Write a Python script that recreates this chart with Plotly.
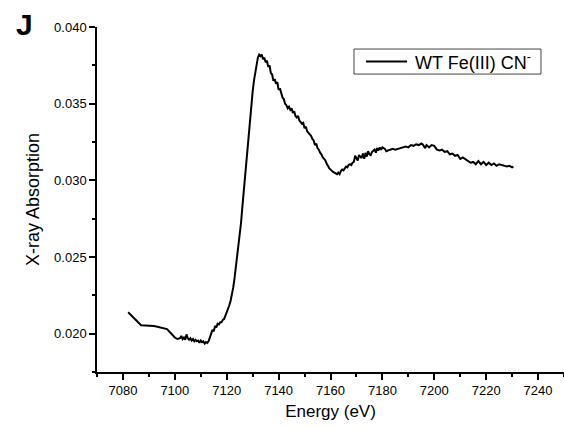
import plotly.graph_objects as go

# XANES spectrum, WT Fe(III) CN-
energy = [
    7082.0, 7087.0, 7092.0, 7097.0, 7100.0, 7101.0, 7102.0, 7102.5, 7103.0, 7103.5,
    7104.0, 7104.5, 7105.0, 7105.5, 7106.0, 7106.5, 7107.0, 7107.5, 7108.0, 7108.5,
    7109.0, 7109.5, 7110.0, 7110.5, 7111.0, 7111.5, 7112.0, 7112.5, 7113.0, 7113.5,
    7114.0, 7114.5, 7115.0, 7115.5, 7116.0, 7116.5, 7117.0, 7117.5, 7118.0, 7118.5,
    7119.0, 7119.5, 7120.0, 7120.5, 7121.0, 7121.5, 7122.0, 7122.5, 7123.0, 7123.5,
    7124.0, 7124.5, 7125.0, 7125.5, 7126.0, 7126.5, 7127.0, 7127.5, 7128.0, 7128.5,
    7129.0, 7129.5, 7130.0, 7130.5, 7131.0, 7131.5, 7132.0, 7132.5, 7133.0, 7133.5,
    7134.0, 7134.5, 7135.0, 7135.5, 7136.0, 7136.5, 7137.0, 7137.5, 7138.0, 7138.5,
    7139.0, 7139.5, 7140.0, 7140.5, 7141.0, 7141.5, 7142.0, 7142.5, 7143.0, 7143.5,
    7144.0, 7144.5, 7145.0, 7145.5, 7146.0, 7146.5, 7147.0, 7147.5, 7148.0, 7149.0,
    7149.5, 7150.0, 7150.5, 7151.0, 7152.0, 7152.5, 7153.0, 7153.5, 7154.0, 7154.5,
    7155.0, 7155.5, 7156.0, 7156.5, 7157.0, 7157.5, 7158.0, 7158.5, 7159.0, 7159.5,
    7160.0, 7160.5, 7161.0, 7161.5, 7162.0, 7162.5, 7163.0, 7163.5, 7164.0, 7164.5,
    7165.0, 7165.5, 7166.0, 7166.5, 7167.0, 7167.5, 7168.0, 7168.5, 7169.0, 7169.5,
    7170.0, 7170.5, 7171.0, 7171.5, 7172.0, 7172.5, 7173.0, 7173.5, 7174.0, 7174.5,
    7175.0, 7175.5, 7176.0, 7177.0, 7177.5, 7178.0, 7178.5, 7179.0, 7179.5, 7180.0,
    7181.0, 7181.5, 7182.0, 7183.0, 7184.0, 7185.0, 7186.0, 7187.0, 7188.0, 7189.0,
    7190.0, 7191.0, 7192.0, 7193.0, 7194.0, 7195.0, 7195.5, 7196.0, 7196.5, 7197.0,
    7198.0, 7199.0, 7200.0, 7201.0, 7202.0, 7203.0, 7204.0, 7205.0, 7206.0, 7207.0,
    7208.0, 7209.0, 7210.0, 7211.0, 7212.0, 7213.0, 7214.0, 7215.0, 7216.0, 7217.0,
    7218.0, 7219.0, 7220.0, 7221.0, 7222.0, 7223.0, 7224.0, 7225.0, 7226.0, 7227.0,
    7228.0, 7229.0, 7230.0, 7230.5,
]

absorption = [
    0.02140, 0.02055, 0.02050, 0.02030, 0.01975, 0.01965, 0.01970, 0.01985, 0.01965, 0.01975,
    0.01960, 0.01995, 0.01970, 0.01960, 0.01970, 0.01955, 0.01965, 0.01950, 0.01960, 0.01950,
    0.01955, 0.01940, 0.01955, 0.01945, 0.01950, 0.01935, 0.01945, 0.01940, 0.01950, 0.01980,
    0.01995, 0.02025, 0.02015, 0.02050, 0.02040, 0.02065, 0.02060, 0.02075, 0.02075, 0.02090,
    0.02095, 0.02115, 0.02135, 0.02160, 0.02185, 0.02215, 0.02250, 0.02300, 0.02360, 0.02425,
    0.02490, 0.02560, 0.02630, 0.02720, 0.02820, 0.02920, 0.03020, 0.03120, 0.03220, 0.03320,
    0.03410, 0.03500, 0.03580, 0.03650, 0.03710, 0.03760, 0.03800, 0.03820, 0.03810, 0.03820,
    0.03790, 0.03800, 0.03770, 0.03780, 0.03740, 0.03750, 0.03700, 0.03690, 0.03650, 0.03660,
    0.03630, 0.03640, 0.03590, 0.03600, 0.03560, 0.03540, 0.03530, 0.03500, 0.03490, 0.03470,
    0.03480, 0.03460, 0.03470, 0.03440, 0.03450, 0.03420, 0.03410, 0.03420, 0.03390, 0.03370,
    0.03375, 0.03340, 0.03350, 0.03320, 0.03300, 0.03290, 0.03270, 0.03260, 0.03230, 0.03240,
    0.03210, 0.03200, 0.03180, 0.03170, 0.03150, 0.03140, 0.03130, 0.03110, 0.03090, 0.03080,
    0.03070, 0.03060, 0.03055, 0.03050, 0.03045, 0.03040, 0.03050, 0.03040, 0.03060, 0.03070,
    0.03065, 0.03080, 0.03090, 0.03085, 0.03100, 0.03105, 0.03100, 0.03115, 0.03120, 0.03160,
    0.03140, 0.03130, 0.03165, 0.03150, 0.03145, 0.03175, 0.03140, 0.03180, 0.03155, 0.03190,
    0.03170, 0.03165, 0.03185, 0.03200, 0.03180, 0.03210, 0.03195, 0.03215, 0.03200, 0.03215,
    0.03205, 0.03190, 0.03195, 0.03200, 0.03205, 0.03200, 0.03205, 0.03210, 0.03215, 0.03220,
    0.03215, 0.03230, 0.03225, 0.03235, 0.03230, 0.03240, 0.03235, 0.03225, 0.03210, 0.03230,
    0.03215, 0.03230, 0.03225, 0.03200, 0.03195, 0.03200, 0.03185, 0.03190, 0.03170, 0.03175,
    0.03160, 0.03165, 0.03140, 0.03150, 0.03140, 0.03130, 0.03115, 0.03120, 0.03105, 0.03125,
    0.03105, 0.03120, 0.03100, 0.03115, 0.03100, 0.03110, 0.03095, 0.03105, 0.03100, 0.03100,
    0.03090, 0.03095, 0.03085, 0.03090,
]

series_name = "WT Fe(III) CN<sup>-</sup>"
panel_label = "J"

FONT = "Liberation Sans, Arial, sans-serif"

fig = go.Figure()
fig.add_trace(go.Scatter(
    x=energy, y=absorption, mode="lines", name=series_name,
    line=dict(color="black", width=2), showlegend=False,
))

# Boxed legend drawn in paper coordinates (compact, Origin-style)
legend_box = dict(x0=0.5503, x1=0.9507, y0=0.8636, y1=0.9361)
legend_line = dict(x0=0.576, x1=0.6638, y=0.8999)

shapes = [
    dict(type="rect", xref="paper", yref="paper",
         x0=legend_box["x0"], x1=legend_box["x1"],
         y0=legend_box["y0"], y1=legend_box["y1"],
         line=dict(color="#444444", width=1), fillcolor="white", layer="above"),
    dict(type="line", xref="paper", yref="paper",
         x0=legend_line["x0"], x1=legend_line["x1"],
         y0=legend_line["y"], y1=legend_line["y"],
         line=dict(color="black", width=2), layer="above"),
]

fig.update_layout(
    width=564, height=429,
    margin=dict(l=97, r=0, t=27, b=57),
    paper_bgcolor="white", plot_bgcolor="white",
    font=dict(family=FONT, color="black", size=13),
    showlegend=False,
    shapes=shapes,
    xaxis=dict(
        range=[7070, 7250], dtick=20, tick0=7080,
        showgrid=False, zeroline=False,
        showline=True, linecolor="black", linewidth=1.5,
        ticks="outside", ticklen=6, tickwidth=1.5, tickcolor="black",
        minor=dict(dtick=10, tick0=7070, ticks="outside", ticklen=3, tickwidth=1.5, tickcolor="black"),
        title=dict(text="Energy (eV)", font=dict(size=17), standoff=8),
        tickfont=dict(size=13),
    ),
    yaxis=dict(
        range=[0.0175, 0.040], dtick=0.005, tick0=0.020, tickformat=".3f",
        showgrid=False, zeroline=False,
        showline=True, linecolor="black", linewidth=1.5,
        ticks="outside", ticklen=6, tickwidth=1.5, tickcolor="black",
        minor=dict(dtick=0.0025, tick0=0.0175, ticks="outside", ticklen=3, tickwidth=1.5, tickcolor="black"),
        title=dict(text="X-ray Absorption", font=dict(size=18), standoff=10),
        tickfont=dict(size=13),
    ),
    annotations=[
        dict(text=f"<b>{panel_label}</b>", xref="paper", yref="paper",
             x=-0.156, y=1.0058, xanchor="center", yanchor="middle",
             showarrow=False, font=dict(size=30, family=FONT)),
        dict(text=series_name, xref="paper", yref="paper",
             x=0.6767, y=legend_line["y"], xanchor="left", yanchor="middle",
             showarrow=False, font=dict(size=18, family=FONT)),
    ],
)

fig.write_html("out.html")
